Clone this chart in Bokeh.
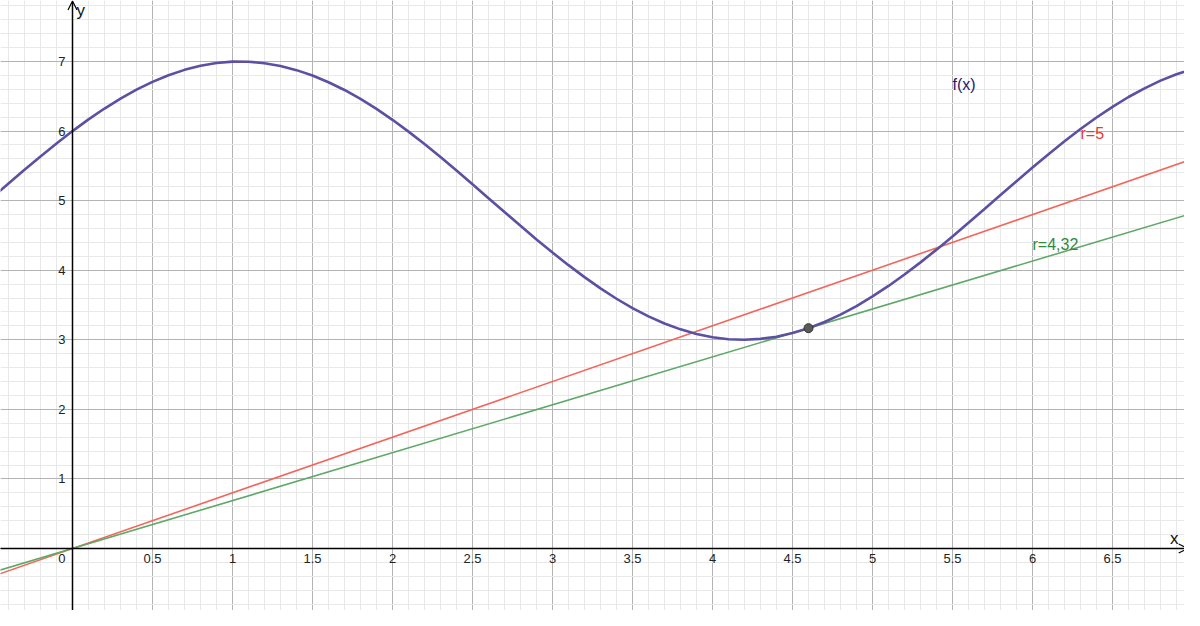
from bokeh.plotting import figure
from bokeh.models import Range1d, Grid, SingleIntervalTicker, Arrow, OpenHead
from bokeh.core.properties import value
from bokeh.embed import file_html
from bokeh.resources import INLINE

# ---- data ----
curve_x = [round(-0.5 + 0.1 * i, 1) for i in range(76)]
curve_y = [5.047, 5.247, 5.443, 5.636, 5.822, 6.000, 6.168, 6.324, 6.467, 6.595,
           6.708, 6.803, 6.880, 6.939, 6.979, 6.998, 6.997, 6.976, 6.936, 6.876,
           6.799, 6.702, 6.591, 6.462, 6.319, 6.162, 5.992, 5.814, 5.627, 5.433,
           5.235, 5.036, 4.836, 4.638, 4.443, 4.254, 4.073, 3.901, 3.739, 3.590,
           3.456, 3.337, 3.234, 3.150, 3.083, 3.036, 3.008, 3.000, 3.013, 3.045,
           3.097, 3.167, 3.256, 3.362, 3.485, 3.623, 3.774, 3.939, 4.113, 4.296,
           4.485, 4.682, 4.881, 5.081, 5.280, 5.476, 5.668, 5.853, 6.029, 6.195,
           6.349, 6.490, 6.615, 6.725, 6.818, 6.892]

line_x = [-0.5, 7.0]
red_y = [-0.40, 5.60]
green_y = [-0.344, 4.82]

point_x = [4.6]
point_y = [3.167]

x_tick_vals = [0.5, 1, 1.5, 2, 2.5, 3, 3.5, 4, 4.5, 5, 5.5, 6, 6.5]
x_tick_labels = ["0.5", "1", "1.5", "2", "2.5", "3", "3.5", "4", "4.5", "5", "5.5", "6", "6.5"]
y_tick_vals = [1, 2, 3, 4, 5, 6, 7]
y_tick_labels = ["1", "2", "3", "4", "5", "6", "7"]

FONT = value("Liberation Sans")

p = figure(width=1184, height=610, output_backend="svg", toolbar_location=None,
           x_axis_type=None, y_axis_type=None,
           x_range=Range1d(-0.45, 6.95), y_range=Range1d(-0.891, 7.877),
           min_border=0, outline_line_color=None, background_fill_color="white")

xg = Grid(dimension=0, ticker=SingleIntervalTicker(interval=0.5, num_minor_ticks=5),
          grid_line_color="#b3b3b3", grid_line_width=1,
          minor_grid_line_color="#e8e8e8", minor_grid_line_width=1)
yg = Grid(dimension=1, ticker=SingleIntervalTicker(interval=1, num_minor_ticks=5),
          grid_line_color="#b3b3b3", grid_line_width=1,
          minor_grid_line_color="#e8e8e8", minor_grid_line_width=1)
p.add_layout(xg)
p.add_layout(yg)

# axes with arrows
p.add_layout(Arrow(end=OpenHead(size=9, line_color="black", line_width=1.2),
                   x_start=-0.5, y_start=0, x_end=6.97, y_end=0,
                   line_color="black", line_width=1.5))
p.add_layout(Arrow(end=OpenHead(size=9, line_color="black", line_width=1.2),
                   x_start=0, y_start=-1.0, x_end=0, y_end=7.87,
                   line_color="black", line_width=1.5))

# lines
p.line(line_x, red_y, line_color="#f26659", line_width=1.6)
p.line(line_x, green_y, line_color="#5fa867", line_width=1.6)
p.line(curve_x, curve_y, line_color="#5b50a2", line_width=2.6)
p.scatter(point_x, point_y, size=9, fill_color="#5a5a5a", line_color="#333333", line_width=1)

# tick labels
p.text(x=x_tick_vals, y=[0] * len(x_tick_vals), text=x_tick_labels, text_font=FONT,
       text_font_size="13px", text_color="#222222", text_align="center",
       text_baseline="top", y_offset=5)
p.text(x=[0], y=[0], text=["0"], text_font=FONT, text_font_size="13px",
       text_color="#222222", text_align="right", text_baseline="top",
       x_offset=-7, y_offset=5)
p.text(x=[0] * len(y_tick_vals), y=y_tick_vals, text=y_tick_labels, text_font=FONT,
       text_font_size="13px", text_color="#222222", text_align="right",
       text_baseline="middle", x_offset=-7)

# axis names
p.text(x=[6.95], y=[0], text=["x"], text_font=FONT, text_font_size="17px",
       text_color="#111111", text_align="right", text_baseline="bottom",
       x_offset=-6, y_offset=-1)
p.text(x=[0], y=[7.877], text=["y"], text_font=FONT, text_font_size="17px",
       text_color="#111111", text_align="left", text_baseline="top",
       x_offset=4, y_offset=0)

# object labels
p.text(x=[5.5], y=[6.67], text=["f(x)"], text_font=FONT, text_font_size="16px",
       text_color="#1c1a6b", text_align="left", text_baseline="middle")
p.text(x=[6.3], y=[5.965], text=["r=5"], text_font=FONT, text_font_size="16px",
       text_color="#e8392f", text_align="left", text_baseline="middle")
p.text(x=[6.0], y=[4.37], text=["r=4,32"], text_font=FONT, text_font_size="16px",
       text_color="#2e8b3c", text_align="left", text_baseline="middle")

open("out.html", "w").write(file_html(p, INLINE))
